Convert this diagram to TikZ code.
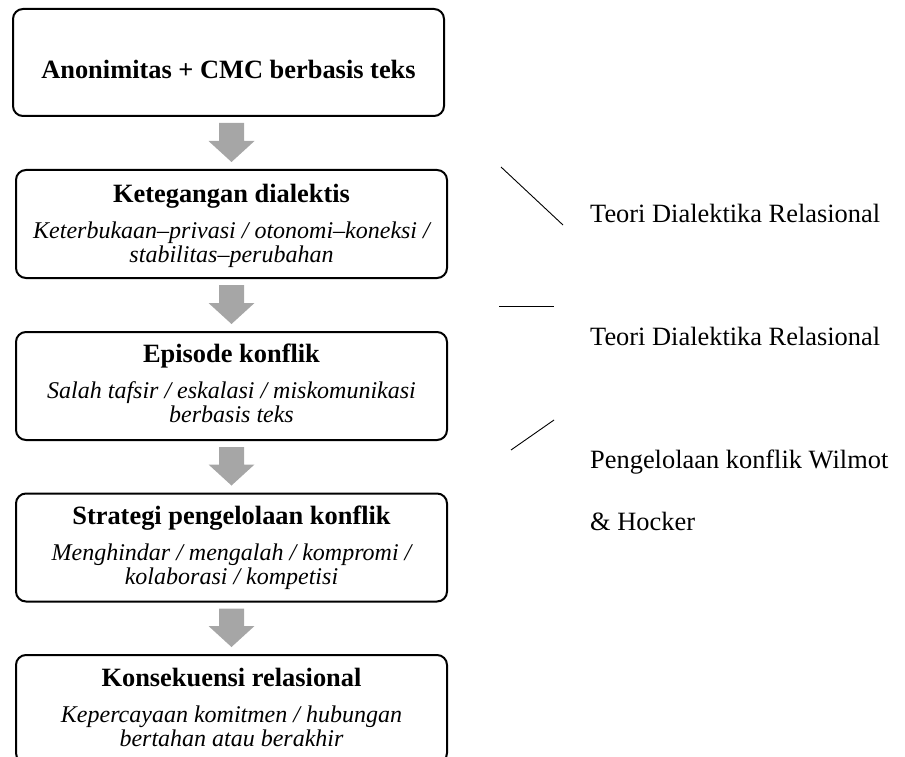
\documentclass[tikz,border=0pt]{standalone}
\usepackage{fontspec}
\setmainfont{Liberation Serif}
\usetikzlibrary{calc}
\definecolor{arrowgray}{HTML}{A6A6A6}
\tikzset{
  box/.style={draw=black, line width=2pt, rounded corners=10pt, minimum width=431pt, minimum height=108pt, inner sep=0pt},
  title/.style={anchor=base, inner sep=0pt, font=\fontsize{26.4}{30}\selectfont\bfseries},
  sub/.style={anchor=base, inner sep=0pt, align=center, font=\fontsize{24}{24}\selectfont\itshape},
  side/.style={anchor=base west, inner sep=0pt, align=left, font=\fontsize{26.4}{62}\selectfont},
  pointer/.style={line width=0.9pt, black},
  flowarrow/.style={fill=arrowgray, draw=none}
}
\newcommand\flowarr[2]{%
  \fill[flowarrow] ($(#2.north |- #1.south)+(-12.5,6)$) -- ($(#2.north |- #1.south)+(12.5,6)$)
    -- ($(#2.north)+(12.5,-28)$) -- ($(#2.north)+(23,-28)$) -- ($(#2.north)+(0,-7)$)
    -- ($(#2.north)+(-23,-28)$) -- ($(#2.north)+(-12.5,-28)$) -- cycle;}
\begin{document}
\begin{tikzpicture}[x=1pt, y=-1pt]
\useasboundingbox (0,0) rectangle (905,757);
\clip (0,0) rectangle (905,757);
\node[box, minimum height=107pt] (b1) at (228.5,62.5) {};
\node[box] (b2) at (231.5,224) {};
\node[box] (b3) at (231.5,386) {};
\node[box] (b4) at (231.5,547.5) {};
\node[box] (b5) at (231.5,709) {};

\node[title] (t1) at ($(b1.north)+(0,71)$) {Anonimitas + CMC berbasis teks};

\node[title] (t2) at ($(b2.north)+(0,33)$) {Ketegangan dialektis};
\node[sub] (s2) at ($(b2.north)+(0,93)$) {Keterbukaan–privasi / otonomi–koneksi /\\stabilitas–perubahan};

\node[title] (t3) at ($(b3.north)+(0,31)$) {Episode konflik};
\node[sub] (s3) at ($(b3.north)+(0,91)$) {Salah tafsir / eskalasi / miskomunikasi\\berbasis teks};

\node[title] (t4) at ($(b4.north)+(0,32)$) {Strategi pengelolaan konflik};
\node[sub] (s4) at ($(b4.north)+(0,92)$) {Menghindar / mengalah / kompromi /\\kolaborasi / kompetisi};

\node[title] (t5) at ($(b5.north)+(0,32)$) {Konsekuensi relasional};
\node[sub] (s5) at ($(b5.north)+(0,92)$) {Kepercayaan komitmen / hubungan\\bertahan atau berakhir};

\flowarr{b1}{b2}
\flowarr{b2}{b3}
\flowarr{b3}{b4}
\flowarr{b4}{b5}

\node[side] (r1) at (590,222) {Teori Dialektika Relasional};
\node[side] (r2) at (590,345) {Teori Dialektika Relasional};
\node[side] (r3) at (590,530) {Pengelolaan konflik Wilmot\\\& Hocker};

\coordinate (l1a) at (501,167); \coordinate (l1b) at (563,225);
\coordinate (l2a) at (499,306); \coordinate (l2b) at (554,306);
\coordinate (l3a) at (511,450); \coordinate (l3b) at (554,420);
\draw[pointer] (l1a) -- (l1b);
\draw[pointer] (l2a) -- (l2b);
\draw[pointer] (l3a) -- (l3b);
\end{tikzpicture}
\end{document}
